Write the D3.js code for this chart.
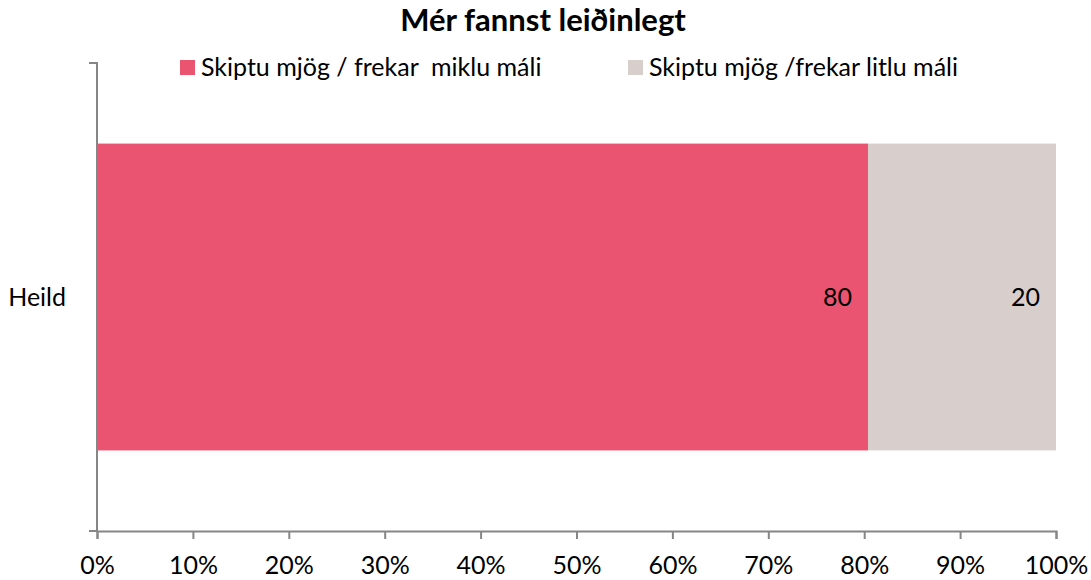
<!DOCTYPE html>
<html>
<head>
<meta charset="utf-8">
<script src="https://cdn.jsdelivr.net/npm/d3@7"></script>
<style>
  body { margin: 0; background: #fff; }
  svg text { font-family: Lato, "Open Sans", sans-serif; }
</style>
</head>
<body>
<div id="chart"></div>
<script>
// data
var categories = ["Heild"];
var seriesNames = ["Skiptu mjög / frekar  miklu máli", "Skiptu mjög /frekar litlu máli"];
var miklu = [80.4];
var litlu = [19.6];
var xTicks = [0, 10, 20, 30, 40, 50, 60, 70, 80, 90, 100];
var colors = ["#EA5470", "#D8CFCC"];

var width = 1091, height = 580;
var margin = {top: 63, right: 35, bottom: 49, left: 97};

var svg = d3.select("#chart").append("svg")
    .attr("width", width)
    .attr("height", height);

// title
svg.append("text")
    .attr("x", 543)
    .attr("y", 31)
    .attr("text-anchor", "middle")
    .style("font-size", "31px")
    .style("font-weight", "bold")
    .text("Mér fannst leiðinlegt");

var x = d3.scaleLinear()
    .domain([0, 100])
    .range([margin.left, width - margin.right]);

var y = d3.scaleBand()
    .domain(categories)
    .range([margin.top, height - margin.bottom])
    .padding(0.208);

// stack the series
var rows = categories.map(function(c, i) {
  return {cat: c, miklu: miklu[i], litlu: litlu[i]};
});
var stack = d3.stack().keys(["miklu", "litlu"]);
var layers = stack(rows);

var g = svg.append("g");
layers.forEach(function(layer, li) {
  g.selectAll(".bar" + li)
    .data(layer)
    .enter().append("rect")
      .attr("x", function(d) { return x(d[0]); })
      .attr("y", function(d) { return y(d.data.cat); })
      .attr("width", function(d) { return x(d[1]) - x(d[0]); })
      .attr("height", y.bandwidth())
      .attr("fill", colors[li]);

  // value labels, inside end
  g.selectAll(".lab" + li)
    .data(layer)
    .enter().append("text")
      .attr("x", function(d) { return x(d[1]) - 16; })
      .attr("y", function(d) { return y(d.data.cat) + y.bandwidth() / 2 + 9; })
      .attr("text-anchor", "end")
      .style("font-size", "25px")
      .text(function(d) { return Math.round(d[1] - d[0]); });
});

// x axis
var xAxis = d3.axisBottom(x)
    .tickValues(xTicks)
    .tickSize(8)
    .tickSizeOuter(8)
    .tickFormat(function(d) { return d + "%"; });

var gx = svg.append("g")
    .attr("transform", "translate(0," + (height - margin.bottom) + ")")
    .call(xAxis);
gx.select(".domain").attr("stroke", "#868686").attr("stroke-width", 2);
gx.selectAll(".tick line").attr("stroke", "#868686").attr("stroke-width", 2);
gx.selectAll(".tick text")
    .attr("dy", "0")
    .attr("y", 43)
    .attr("fill", "#000")
    .style("font-size", "25px");

// y axis
var yAxis = d3.axisLeft(y).tickSize(0).tickSizeOuter(8).tickPadding(31);
var gy = svg.append("g")
    .attr("transform", "translate(" + margin.left + ",0)")
    .call(yAxis);
gy.select(".domain")
    .attr("stroke", "#868686")
    .attr("stroke-width", 2)
    .attr("d", "M-8," + margin.top + "H0V" + (height - margin.bottom) + "H-8");
gy.selectAll(".tick text")
    .attr("dy", "0.35em")
    .attr("fill", "#000")
    .style("font-size", "25px");

// legend
var legendX = [180, 628];
var legend = svg.append("g");
seriesNames.forEach(function(name, i) {
  legend.append("rect")
      .attr("x", legendX[i])
      .attr("y", 60)
      .attr("width", 15)
      .attr("height", 15)
      .attr("fill", colors[i]);
  legend.append("text")
      .attr("x", legendX[i] + 21)
      .attr("y", 76)
      .style("font-size", "25px")
      .style("white-space", "pre")
      .attr("xml:space", "preserve")
      .text(name);
});
</script>
</body>
</html>
